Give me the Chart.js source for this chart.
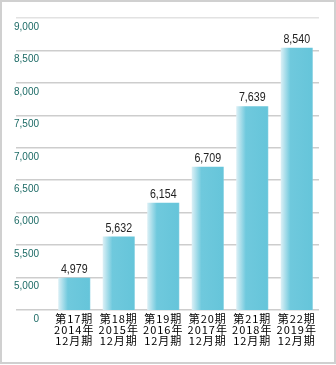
<!DOCTYPE html>
<html>
<head>
<meta charset="utf-8">
<script src="https://cdn.jsdelivr.net/npm/chart.js@4"></script>
<style>
  html, body { margin: 0; padding: 0; background: #fff; }
  canvas { display: block; }
</style>
</head>
<body>
<canvas id="chart" width="336" height="365"></canvas>
<script>
const periods = ['第17期', '第18期', '第19期', '第20期', '第21期', '第22期'];
const years = ['2014年', '2015年', '2016年', '2017年', '2018年', '2019年'];
const months = ['12月期', '12月期', '12月期', '12月期', '12月期', '12月期'];
const values = [4979, 5632, 6154, 6709, 7639, 8540];

// axis is broken: the bottom step stands for 0..5,000
const AXIS_MIN = 4500;
const AXIS_MAX = 9000;
const AXIS_STEP = 500;
const BAR_PCT = 0.72;
function toAxis(v) {
    return v >= 5000 ? v : AXIS_MIN + v * (5000 - AXIS_MIN) / 5000;
}

const labels = periods.map((p, i) => [p, years[i], months[i]]);

function barGradient(context) {
    const chart = context.chart;
    const area = chart.chartArea;
    const x = chart.scales.x;
    if (!area || !x) return '#68c6db';
    const w = (area.right - area.left) / labels.length * BAR_PCT;
    const left = x.getPixelForValue(context.dataIndex) - w / 2;
    const g = chart.ctx.createLinearGradient(left, 0, left + w, 0);
    g.addColorStop(0, '#dcf0f6');
    g.addColorStop(0.3, '#6fc9dd');
    g.addColorStop(0.96, '#66c5da');
    g.addColorStop(1, '#7ccde0');
    return g;
}

const frame = {
    id: 'frame',
    beforeDraw(chart) {
        const ctx = chart.ctx;
        ctx.save();
        ctx.strokeStyle = '#d0d0d0';
        ctx.lineWidth = 2;
        ctx.strokeRect(1, 1, chart.width - 2, chart.height - 3);
        ctx.restore();
    }
};

const valueLabels = {
    id: 'valueLabels',
    afterDatasetsDraw(chart) {
        const ctx = chart.ctx;
        ctx.save();
        ctx.font = "13px 'Liberation Sans', Arial, sans-serif";
        ctx.fillStyle = '#222';
        ctx.textAlign = 'center';
        ctx.textBaseline = 'alphabetic';
        chart.getDatasetMeta(0).data.forEach((bar, i) => {
            ctx.save();
            ctx.translate(bar.x, bar.y - 5);
            ctx.scale(0.82, 1);
            ctx.fillText(values[i].toLocaleString('en-US'), 0, 0);
            ctx.restore();
        });
        ctx.restore();
    }
};

// the category labels are set with a little tracking
function spaceLabels(scale) {
    if (scale._spaced) return;
    scale._spaced = true;
    const draw = scale.drawLabels.bind(scale);
    scale.drawLabels = (area) => {
        scale.ctx.save();
        scale.ctx.letterSpacing = '1px';
        draw(area);
        scale.ctx.restore();
    };
}

new Chart(document.getElementById('chart'), {
    type: 'bar',
    data: {
        labels: labels,
        datasets: [{
            data: values.map(toAxis),
            backgroundColor: barGradient,
            borderWidth: 0,
            categoryPercentage: 1,
            barPercentage: BAR_PCT
        }]
    },
    options: {
        responsive: false,
        devicePixelRatio: 1,
        animation: false,
        layout: { padding: { top: 18, left: 0, right: 17, bottom: 16 } },
        plugins: {
            legend: { display: false },
            tooltip: { enabled: false }
        },
        scales: {
            x: {
                afterFit: spaceLabels,
                grid: { display: false, drawTicks: false },
                border: { display: false },
                ticks: {
                    color: '#000',
                    padding: 3,
                    maxRotation: 0,
                    autoSkip: false,
                    font: { family: "'Noto Sans CJK JP', sans-serif", size: 11, lineHeight: 1.0 }
                }
            },
            y: {
                min: AXIS_MIN,
                max: AXIS_MAX,
                afterFit(scale) { scale.width = 52; },
                border: { display: false },
                grid: {
                    color: (c) => c.tick && c.tick.value === AXIS_MAX ? '#e2e2e2' : '#cdcdcd',
                    lineWidth: 1.5,
                    tickLength: 36
                },
                ticks: {
                    stepSize: AXIS_STEP,
                    padding: -23,
                    labelOffset: 9,
                    color: '#1d6b66',
                    font: { family: "'Liberation Sans', Arial, sans-serif", size: 10 },
                    callback: (v) => v === AXIS_MIN ? '0' : v.toLocaleString('en-US')
                }
            }
        }
    },
    plugins: [frame, valueLabels]
});
</script>
</body>
</html>
